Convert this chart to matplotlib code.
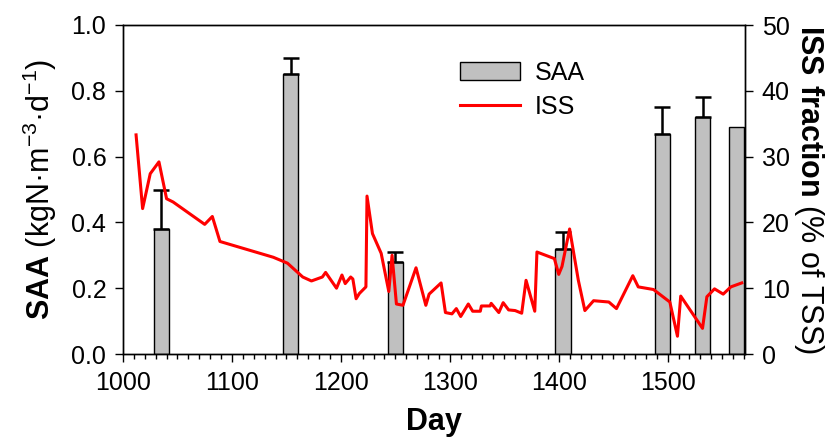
import numpy as np
import matplotlib
matplotlib.use('Agg')
import matplotlib.pyplot as plt
from matplotlib.ticker import MultipleLocator, FormatStrFormatter

# SAA bars (left axis)
saa_day = [1035, 1154, 1250, 1404, 1495, 1532, 1563]
saa = [0.38, 0.85, 0.28, 0.32, 0.67, 0.72, 0.69]
saa_err = [0.12, 0.05, 0.03, 0.05, 0.08, 0.06, None]

# ISS fraction line (right axis)
iss_day = [1012, 1018, 1025, 1033, 1040, 1046, 1075, 1082, 1089, 1138,
           1151, 1165, 1173, 1183, 1186, 1196, 1201, 1204, 1209, 1211,
           1214, 1217, 1223, 1224, 1229, 1237, 1244, 1247, 1251, 1257,
           1269, 1278, 1281, 1292, 1296, 1302, 1306, 1310, 1317, 1321,
           1328, 1329, 1337, 1338, 1345, 1349, 1354, 1360, 1366, 1370,
           1378, 1380, 1396, 1400, 1403, 1410, 1418, 1424, 1432, 1446,
           1453, 1468, 1473, 1487, 1502, 1509, 1512, 1532, 1536, 1543,
           1551, 1558, 1568]
iss = [33.3, 22.1, 27.4, 29.2, 23.6, 23.1, 19.7, 20.9, 17.1, 14.7,
       13.8, 11.7, 11.1, 11.7, 12.4, 10.0, 12.0, 10.7, 11.7, 11.4,
       8.4, 9.2, 10.2, 24.0, 18.3, 15.3, 9.5, 15.0, 7.6, 7.4,
       13.1, 7.4, 9.1, 10.8, 6.3, 6.1, 6.9, 5.7, 7.6, 6.5,
       6.5, 7.3, 7.3, 7.7, 6.3, 7.8, 6.7, 6.6, 6.2, 11.2,
       6.5, 15.5, 14.5, 12.1, 13.3, 19.0, 11.2, 6.6, 8.1, 7.9,
       6.9, 11.9, 10.2, 9.8, 7.9, 2.7, 8.8, 3.9, 8.7, 9.9,
       9.1, 10.2, 10.8]

plt.rcParams['font.family'] = 'Liberation Sans'
plt.rcParams['mathtext.fontset'] = 'custom'
plt.rcParams['mathtext.rm'] = 'Liberation Sans'
plt.rcParams['mathtext.bf'] = 'Liberation Sans:bold'
plt.rcParams['axes.linewidth'] = 1.0

fig = plt.figure(figsize=(8.34, 4.44), dpi=100)
ax = fig.add_axes([123/834, 1 - 354/444, 622/834, 329/444])
ax2 = ax.twinx()

bars = ax.bar(saa_day, saa, width=14, color='#c0c0c0', edgecolor='black',
              linewidth=1.0, label='SAA', zorder=2)
ex = [d for d, e in zip(saa_day, saa_err) if e is not None]
ey = [v for v, e in zip(saa, saa_err) if e is not None]
ee = [e for e in saa_err if e is not None]
ax.errorbar(ex, ey, yerr=[np.zeros(len(ee)), ee], fmt='none', ecolor='black',
            elinewidth=1.8, capsize=6, capthick=1.8, zorder=3)

line, = ax2.plot(iss_day, iss, color='red', lw=2.2, label='ISS')

ax.set_xlim(1000, 1571)
ax.set_ylim(0, 1.0)
ax2.set_ylim(0, 50)

ax.xaxis.set_major_locator(MultipleLocator(100))
ax.xaxis.set_minor_locator(MultipleLocator(10))
ax.yaxis.set_major_locator(MultipleLocator(0.2))
ax.yaxis.set_major_formatter(FormatStrFormatter('%.1f'))
ax2.yaxis.set_major_locator(MultipleLocator(10))

ax.tick_params(axis='both', which='major', direction='out', length=6,
               width=1, labelsize=18, pad=6)
ax.tick_params(axis='x', which='minor', direction='out', length=3.5, width=1)
ax2.tick_params(axis='y', which='major', direction='out', length=6,
                width=1, labelsize=18, pad=6)

ax.set_xlabel('Day', fontsize=22, fontweight='bold', labelpad=9)
ax.set_ylabel(r'$\mathbf{SAA}$ (kgN·m$^{-3}$·d$^{-1}$)', fontsize=22, labelpad=9)
ax2.set_ylabel(r'$\mathbf{ISS\ fraction}$ (% of TSS)', fontsize=22,
               rotation=270, labelpad=26)

ax.legend([bars, line], ['SAA', 'ISS'], loc='upper left',
          bbox_to_anchor=(0.505, 0.96), frameon=False, fontsize=18,
          handlelength=2.4, handleheight=0.7, labelspacing=0.4,
          handletextpad=0.6)

fig.savefig('out.png', dpi=100)
